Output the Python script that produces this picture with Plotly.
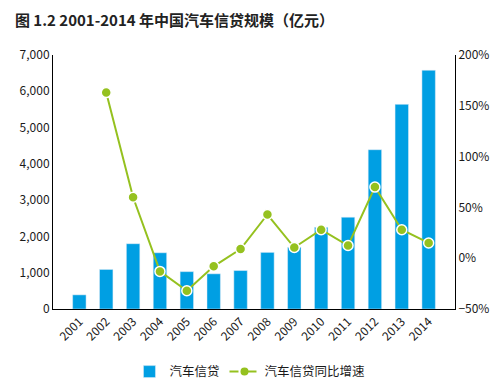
import plotly.graph_objects as go

years = ["2001", "2002", "2003", "2004", "2005", "2006", "2007",
         "2008", "2009", "2010", "2011", "2012", "2013", "2014"]
loans = [390, 1090, 1800, 1550, 1030, 970, 1060, 1560, 1700, 2250, 2530, 4390, 5640, 6580]
growth = [None, 163, 60, -13, -32, -8, 9, 43, 10.5, 28, 12.5, 70, 28, 15]

bar_name = "汽车信贷"
line_name = "汽车信贷同比增速"
title = "图 1.2 2001-2014 年中国汽车信贷规模（亿元）"

BLUE = "#009FE3"
GREEN = "#95C11F"
FONT = "Noto Sans CJK SC, Open Sans, sans-serif"

fig = go.Figure()
fig.add_trace(go.Bar(x=years, y=loans, name=bar_name, marker_color=BLUE,
                     width=0.5, yaxis="y"))
fig.add_trace(go.Scatter(x=years, y=growth, name=line_name, mode="lines+markers",
                         line=dict(color=GREEN, width=2),
                         marker=dict(color=GREEN, size=10, line=dict(color="white", width=1.5)),
                         yaxis="y2", showlegend=False, connectgaps=False))
# legend entry with dashed line
fig.add_trace(go.Scatter(x=[years[0]], y=[None], name=line_name, mode="lines+markers",
                         line=dict(color=GREEN, width=2, dash="dash"),
                         marker=dict(color=GREEN, size=8),
                         yaxis="y2", showlegend=True))

fig.update_layout(
    width=493, height=376,
    margin=dict(l=45, r=46, t=47, b=75, autoexpand=False),
    paper_bgcolor="white", plot_bgcolor="white",
    font=dict(family=FONT, size=12, color="#1a1a1a"),
    title=dict(text="<b>" + title + "</b>", x=0.014, xanchor="left", y=0.966, yanchor="middle",
               font=dict(size=15, color="#222")),
    bargap=0.5,
    xaxis=dict(type="category", tickangle=-45, showline=True, linecolor="black", linewidth=1,
               ticks="", showgrid=False, tickfont=dict(size=12), automargin=False),
    yaxis=dict(range=[0, 7000], dtick=1000, tickformat=",", showline=True, linecolor="black",
               linewidth=1, ticks="", showgrid=False, zeroline=False, tickfont=dict(size=12),
               automargin=False),
    yaxis2=dict(range=[-50, 200], dtick=50, ticksuffix="%", overlaying="y", side="right",
                showline=True, linecolor="black", linewidth=1, ticks="", showgrid=False,
                zeroline=False, tickfont=dict(size=12), automargin=False),
    legend=dict(orientation="h", x=0.49, xanchor="center", y=-0.248, yanchor="middle",
                font=dict(size=12.5), itemwidth=30),
)

fig.write_html("out.html")
